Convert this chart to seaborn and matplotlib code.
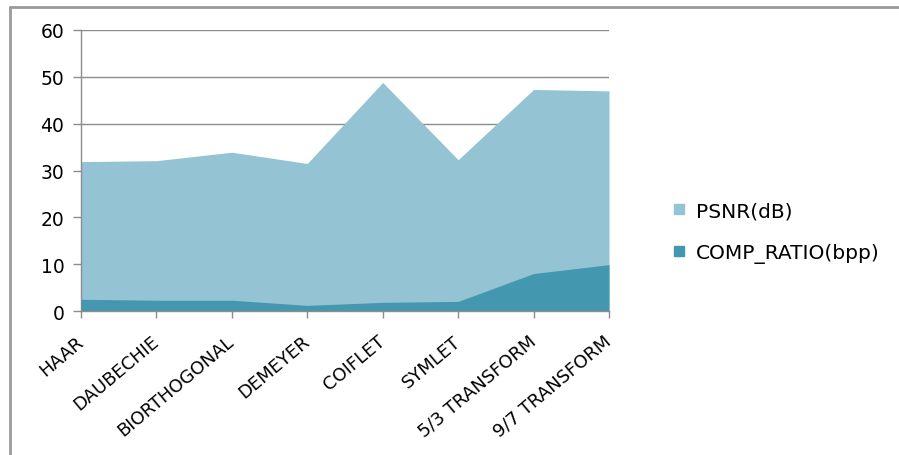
import matplotlib
matplotlib.use("Agg")
import matplotlib.pyplot as plt
from matplotlib.lines import Line2D
import seaborn as sns
import pandas as pd
import numpy as np

categories = ["HAAR", "DAUBECHIE", "BIORTHOGONAL", "DEMEYER", "COIFLET",
              "SYMLET", "5/3 TRANSFORM", "9/7 TRANSFORM"]
psnr_db = [31.9, 32.1, 33.9, 31.5, 48.8, 32.3, 47.3, 47.0]
comp_ratio_bpp = [2.5, 2.3, 2.3, 1.2, 1.85, 2.05, 8.0, 9.9]
y_ticks = [0, 10, 20, 30, 40, 50, 60]

psnr_color = "#94C3D4"
comp_color = "#4398AF"
grid_color = "#8C8C8C"

sns.set_theme(style="white")
plt.rcParams["font.family"] = ["DejaVu Sans"]
plt.rcParams["text.color"] = "black"

df = pd.DataFrame({"category": categories, "PSNR(dB)": psnr_db,
                   "COMP_RATIO(bpp)": comp_ratio_bpp})
df["pos"] = np.arange(len(df))

fig = plt.figure(figsize=(8.99, 4.56), dpi=100)
ax = fig.add_axes([81 / 899, 1 - 312 / 456, (609 - 81) / 899, (312 - 31) / 456])

sns.lineplot(data=df, x="pos", y="PSNR(dB)", ax=ax, color=psnr_color, lw=0)
sns.lineplot(data=df, x="pos", y="COMP_RATIO(bpp)", ax=ax, color=comp_color, lw=0)
ax.fill_between(df["pos"], 0, df["PSNR(dB)"], color=psnr_color, lw=0, zorder=2)
ax.fill_between(df["pos"], 0, df["COMP_RATIO(bpp)"], color=comp_color, lw=0, zorder=3)

ax.set_xlim(0, len(categories) - 1)
ax.set_ylim(0, 60)
ax.set_yticks(y_ticks)
ax.set_xticks(df["pos"])
ax.set_xticklabels(categories, rotation=40, ha="right", va="center",
                   rotation_mode="anchor")
ax.set_xlabel("")
ax.set_ylabel("")

for y in y_ticks[1:]:
    ax.axhline(y, color=grid_color, lw=1.0, zorder=1)

for s in ["top", "right"]:
    ax.spines[s].set_visible(False)
for s in ["left", "bottom"]:
    ax.spines[s].set_color(grid_color)
    ax.spines[s].set_linewidth(1.0)
ax.spines["bottom"].set_zorder(5)

ax.tick_params(axis="y", which="both", left=True, length=6, width=1.0,
               color=grid_color, labelsize=13.5, pad=6, labelcolor="black")
ax.tick_params(axis="x", which="both", bottom=True, length=5, width=1.0,
               color=grid_color, labelsize=13, pad=15, labelcolor="black")

handles = [Line2D([], [], marker="s", ls="", ms=7, color=psnr_color),
           Line2D([], [], marker="s", ls="", ms=7, color=comp_color)]
leg = fig.legend(handles, ["PSNR(dB)", "COMP_RATIO(bpp)"], loc="center left",
                 bbox_to_anchor=(663 / 899, 1 - 233 / 456), frameon=False,
                 fontsize=14.5, handlelength=0.8, handletextpad=0.45,
                 labelspacing=1.1, borderaxespad=0)
for t in leg.get_texts():
    t.set_color("black")

fig.add_artist(Line2D([10 / 899, 1], [1 - 8 / 456, 1 - 8 / 456],
                      transform=fig.transFigure, color="#9A9A9A", lw=2))
fig.add_artist(Line2D([10 / 899, 10 / 899], [0, 1 - 8 / 456],
                      transform=fig.transFigure, color="#9A9A9A", lw=2))

fig.savefig("out.png", dpi=100)
